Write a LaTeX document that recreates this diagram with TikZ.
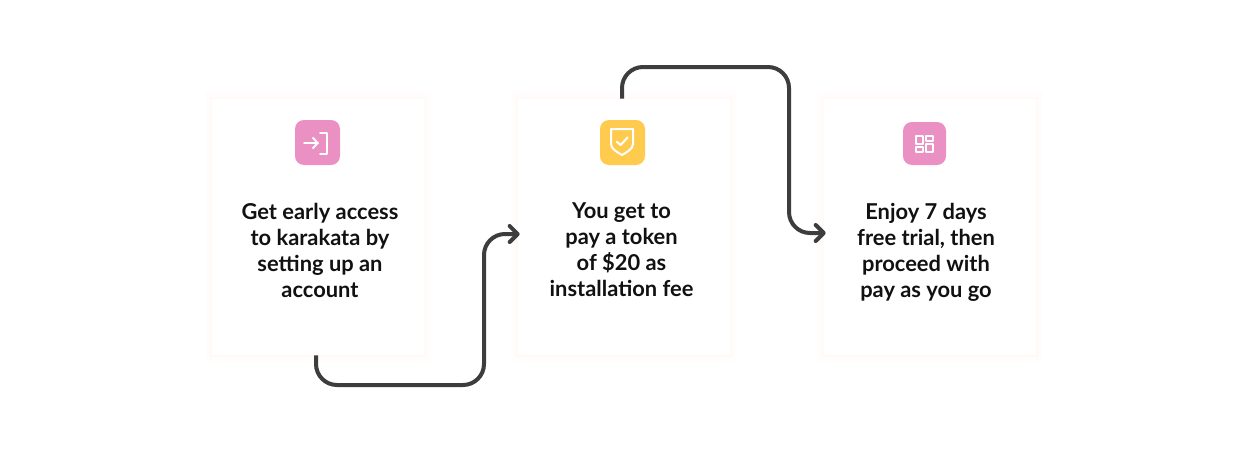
\documentclass[tikz,border=0pt]{standalone}
\usepackage{fontspec}
\setmainfont{Lato}
\usetikzlibrary{arrows.meta}
\definecolor{cardglowa}{HTML}{FFFEFD}
\definecolor{cardglowb}{HTML}{FFFCFB}
\definecolor{cardglowc}{HTML}{FFF9F8}
\definecolor{iconpink}{HTML}{EA90C2}
\definecolor{iconyellow}{HTML}{FFCB4F}
\definecolor{flowgrey}{HTML}{3D3D3D}
\definecolor{inktext}{HTML}{111111}
\tikzset{
    card/.style={fill=white, minimum width=4.24cm, minimum height=5.12cm, inner sep=0,
        preaction={draw=cardglowa, line width=0.3cm},
        preaction={draw=cardglowb, line width=0.2cm},
        preaction={draw=cardglowc, line width=0.1cm}},
    cardtext/.style={align=center, text=inktext, font=\fontsize{12.45}{14.8}\selectfont\bfseries},
    icon/.style={fill=#1, rounded corners=0.18cm, minimum size=0.9cm, inner sep=0},
    glyph/.style={draw=white, line width=0.04cm, line cap=round, line join=round},
    flow/.style={draw=flowgrey, line width=0.08cm, rounded corners=0.42cm, shorten >=-0.04cm,
        -{Straight Barb[length=1.6mm, width=3.2mm, round]}}
}
\begin{document}
\begin{tikzpicture}[x=0.02cm, y=-0.02cm]
        \useasboundingbox (0, 0) rectangle (1240, 454);
        \fill[white] (0, 0) rectangle (1240, 454);

        \node[card] (accesscard) at (318, 227) {};
        \node[card] (tokencard) at (624, 227) {};
        \node[card] (trialcard) at (930, 227) {};

        \node[icon=iconpink] (accessicon) at (317.5, 142.5) {};
        \node[icon=iconyellow] (tokenicon) at (622.5, 142.5) {};
        \node[icon=iconpink, minimum size=0.86cm] (trialicon) at (924.5, 143.5) {};

        % login
        \draw[glyph, -{Straight Barb[length=1mm, width=2.2mm]}] (304, 143) -- (319, 143);
        \draw[glyph] (320, 133) -- (327, 133) -- (327, 154) -- (320, 154);
        % shield
        \draw[glyph] (611, 129) -- (633, 129) -- (633, 144) .. controls (633, 149) and (627, 152) .. (622, 155)
            .. controls (617, 152) and (611, 149) .. (611, 144) -- cycle;
        \draw[glyph] (616.7, 141.7) -- (620.7, 145) -- (627.7, 137.3);
        % grid
        \draw[glyph] (916, 136) rectangle (922.7, 144);
        \draw[glyph] (926, 136) rectangle (932.7, 140.7);
        \draw[glyph] (916, 147.3) rectangle (922.7, 151.7);
        \draw[glyph] (926, 144) rectangle (932.7, 151.7);

        \node[cardtext] (accesstext) at (320, 250.5) {Get early access\\to karakata by\\setting up an\\account};
        \node[cardtext] (tokentext) at (621.5, 250) {You get to\\pay a token\\of \$20 as\\installation fee};
        \node[cardtext] (trialtext) at (926, 252) {Enjoy 7 days\\free trial, then\\proceed with\\pay as you go};

        \draw[flow] ([xshift=-0.04cm]accesscard.south) |- (484, 385) |- ([yshift=-0.14cm]tokencard.west);
        \draw[flow] ([xshift=-0.04cm]tokencard.north) |- (789, 67) |- ([yshift=-0.12cm]trialcard.west);
    \end{tikzpicture}
\end{document}
